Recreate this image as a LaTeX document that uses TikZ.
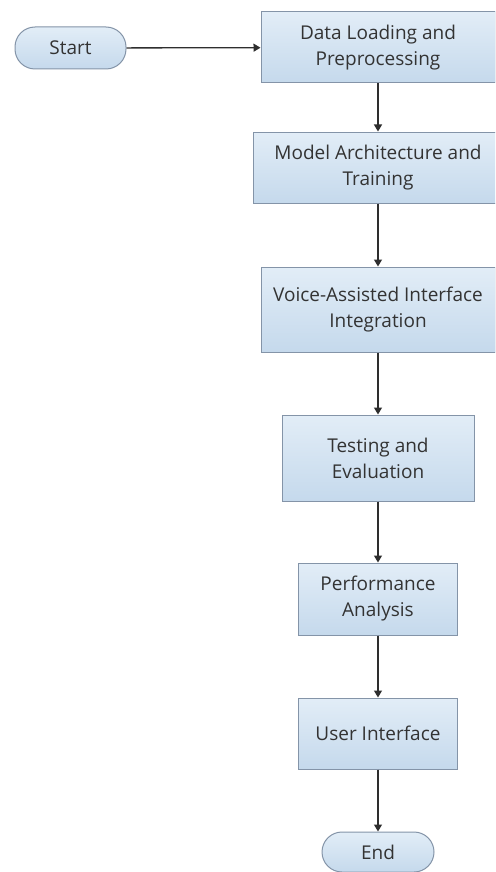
\documentclass[tikz,border=0pt]{standalone}
\usepackage{fontspec}
\setmainfont{Open Sans}
\usetikzlibrary{arrows.meta}
\definecolor{boxtop}{HTML}{E2EDF7}
\definecolor{boxbot}{HTML}{C5D9EC}
\definecolor{boxline}{HTML}{8494A8}
\definecolor{arrowc}{HTML}{2E2E2E}
\definecolor{txt}{HTML}{333333}
\tikzset{
  stepbox/.style={draw=boxline, line width=1pt, top color=boxtop, bottom color=boxbot,
    inner sep=0pt, align=center, text=txt,
    font=\fontsize{19}{26}\selectfont},
  terminal/.style={stepbox, rounded corners=20pt},
  flow/.style={draw=arrowc, line width=1.3pt, -{Triangle[length=7pt,width=8pt]}}
}
\begin{document}
\begin{tikzpicture}[x=1pt,y=-1pt]
\useasboundingbox (0,0) rectangle (495,872);
\clip (0,0) rectangle (495,872);
\fill[white] (0,0) rectangle (495,872);
\node[terminal, minimum width=111pt, minimum height=42pt] (start) at (70.5,48) {Start};
\node[stepbox, minimum width=234pt, minimum height=71pt] (data) at (378,47.5) {Data Loading and\\Preprocessing};
\node[stepbox, minimum width=250pt, minimum height=71pt] (model) at (378,167.5) {Model Architecture and\\Training};
\node[stepbox, minimum width=234pt, minimum height=85pt] (voice) at (378,309.5) {Voice-Assisted Interface\\Integration};
\node[stepbox, minimum width=192pt, minimum height=86pt] (test) at (378,458) {Testing and\\Evaluation};
\node[stepbox, minimum width=159pt, minimum height=72pt] (perf) at (378,599) {Performance\\Analysis};
\node[stepbox, minimum width=159pt, minimum height=71pt] (ui) at (378,733.5) {User Interface};
\node[terminal, minimum width=112pt, minimum height=40pt] (end) at (378,852) {End};
\draw[flow] (start) -- (data);
\draw[flow] (data) -- (model);
\draw[flow] (model) -- (voice);
\draw[flow] (voice) -- (test);
\draw[flow] (test) -- (perf);
\draw[flow] (perf) -- (ui);
\draw[flow] (ui) -- (end);
\end{tikzpicture}
\end{document}
